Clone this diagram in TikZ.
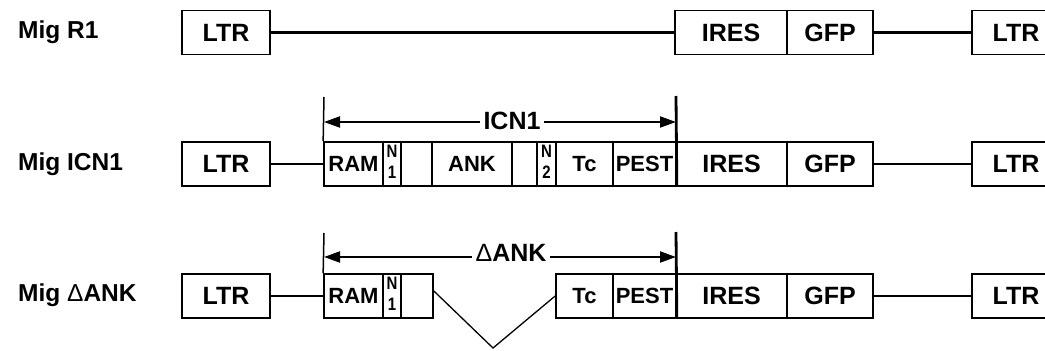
\documentclass[tikz,border=0pt]{standalone}
\usepackage{fontspec}
\setmainfont{Liberation Sans}
\usetikzlibrary{arrows.meta}
\newcommand{\stackn}[1]{\scalebox{1}[1.2]{\begin{tabular}{@{}c@{}}N\\[2.5pt]#1\end{tabular}}}
\tikzset{
  seg/.style={draw, line width=1.7pt, minimum height=44pt, inner sep=0pt, font=\bfseries\fontsize{22}{23}\selectfont},
  big/.style={seg, font=\bfseries\fontsize{25}{26}\selectfont},
  nseg/.style={seg, font=\bfseries\fontsize{15}{15}\selectfont},
  rowlabel/.style={anchor=west, inner sep=0pt, font=\bfseries\fontsize{24.5}{26}\selectfont},
  link/.style={line width=2.5pt},
  thinbar/.style={line width=1.5pt},
  thickbar/.style={line width=2.8pt},
  vline/.style={line width=1.3pt},
  dim/.style={line width=2pt, {Triangle[length=16pt,width=11pt]}-{Triangle[length=16pt,width=11pt]}},
  dimlabel/.style={fill=white, inner xsep=4pt, inner ysep=1pt, font=\bfseries\fontsize{25}{26}\selectfont},
}
\begin{document}
\begin{tikzpicture}[x=1pt,y=-1pt]
\clip (0,0) rectangle (1045,351);
\fill[white] (0,0) rectangle (1045,351);

% ---------- Row 1: Mig R1 ----------
\node[rowlabel] (lbl1) at (18,32.5) {Mig R1};
\node[big, minimum width=88pt]  (ltr1a) at (226,32.5) {LTR};
\node[big, minimum width=112pt] (ires1) at (731,32.5) {IRES};
\node[big, minimum width=86pt]  (gfp1)  at (830,32.5) {GFP};
\node[big, minimum width=88pt]  (ltr1b) at (1016,32.5) {LTR};
\draw[link] (ltr1a.east) -- (ires1.west);
\draw[link] (gfp1.east) -- (ltr1b.west);

% ---------- Row 2: Mig ICN1 ----------
\node[rowlabel] (lbl2) at (18,164) {Mig ICN1};
\node[big, minimum width=88pt]  (ltr2a) at (226,164) {LTR};
\node[seg, minimum width=59pt]  (ram2)  at (353.5,164) {RAM};
\node[nseg, minimum width=18pt] (n12)   at (392,164) {\stackn{1}};
\node[seg, minimum width=31pt]  (b12)   at (416.5,164) {};
\node[seg, minimum width=80pt]  (ank2)  at (472,164) {ANK};
\node[seg, minimum width=25pt]  (b22)   at (524.5,164) {};
\node[nseg, minimum width=19pt] (n22)   at (546.5,164) {\stackn{2}};
\node[seg, minimum width=57pt]  (tc2)   at (584.5,164) {Tc};
\node[seg, minimum width=63pt]  (pest2) at (644.5,164) {PEST};
\node[big, minimum width=111pt] (ires2) at (731.5,164) {IRES};
\node[big, minimum width=86pt]  (gfp2)  at (830,164) {GFP};
\node[big, minimum width=88pt]  (ltr2b) at (1016,164) {LTR};
\draw[link] (ltr2a.east) -- (ram2.west);
\draw[link] (gfp2.east) -- (ltr2b.west);

\coordinate (t2l) at (324,97);
\coordinate (t2r) at (676,96);
\draw[thinbar] (t2l) -- (ram2.north west);
\draw[thickbar] (t2r) -- (pest2.south east);
\coordinate (a2l) at (324,122);
\coordinate (a2r) at (676,122);
\draw[dim] (a2l) -- (a2r);
\node[dimlabel] (icn) at (512,121) {ICN1};

% ---------- Row 3: Mig dANK ----------
\node[rowlabel] (lbl3) at (18,295) {Mig {\mdseries Δ}ANK};
\node[big, minimum width=88pt]  (ltr3a) at (226,296) {LTR};
\node[seg, minimum width=59pt]  (ram3)  at (353.5,296) {RAM};
\node[nseg, minimum width=18pt] (n13)   at (392,296) {\stackn{1}};
\node[seg, minimum width=32pt]  (b13)   at (417,296) {};
\node[seg, minimum width=57pt]  (tc3)   at (584.5,296) {Tc};
\node[seg, minimum width=63pt]  (pest3) at (644.5,296) {PEST};
\node[big, minimum width=111pt] (ires3) at (731.5,296) {IRES};
\node[big, minimum width=86pt]  (gfp3)  at (830,296) {GFP};
\node[big, minimum width=88pt]  (ltr3b) at (1016,296) {LTR};
\draw[link] (ltr3a.east) -- (ram3.west);
\draw[link] (gfp3.east) -- (ltr3b.west);

\coordinate (vtip) at (493,348);
\draw[vline] ([yshift=5pt]b13.east) -- (vtip) -- (tc3.west);

\coordinate (t3l) at (324,233);
\coordinate (t3r) at (676,232);
\draw[thinbar] (t3l) -- (ram3.north west);
\draw[thickbar] (t3r) -- (pest3.south east);
\coordinate (a3l) at (324,257);
\coordinate (a3r) at (676,257);
\draw[dim] (a3l) -- (a3r);
\node[dimlabel] (dank) at (511,253) {{\mdseries Δ}ANK};
\end{tikzpicture}
\end{document}
